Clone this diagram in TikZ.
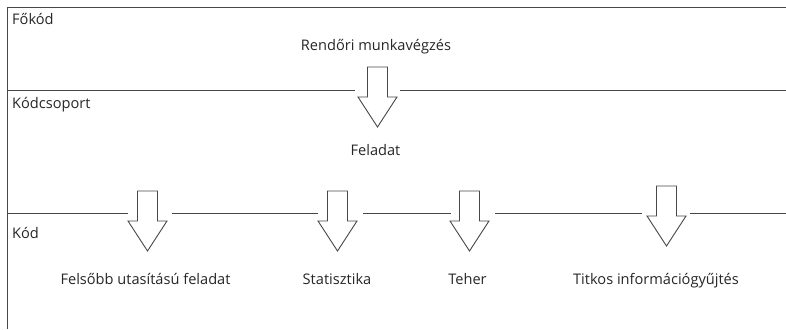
\documentclass[tikz,border=0pt]{standalone}
\usepackage{fontspec}
\setmainfont{Open Sans}
\begin{document}
\begin{tikzpicture}[x=1pt,y=-1pt,
  rule/.style={draw=black!72,line width=0.9pt},
  blk/.style={draw=black!72,line width=0.9pt,fill=white,line join=miter},
  lbl/.style={anchor=base west,inner sep=0pt,font=\fontsize{14.6}{16}\selectfont,text=black!85},
  txt/.style={anchor=base,inner sep=0pt,font=\fontsize{14.6}{16}\selectfont,text=black!85}]
\useasboundingbox (0,0) rectangle (786,329);
% frame lines
\coordinate (tl) at (7,7);
\coordinate (tr) at (786,7);
\coordinate (bl) at (7,329);
\draw[rule] (tr) -- (tl) -- (bl);
\draw[rule] (7,90) -- (355,90);
\draw[rule] (400,90) -- (786,90);
\draw[rule] (7,213) -- (128,213);
\draw[rule] (172,213) -- (318,213);
\draw[rule] (363,213) -- (451,213);
\draw[rule] (495,213) -- (642,213);
\draw[rule] (690,213) -- (786,213);
% block arrows: #1 centre x, #2 top y
\newcommand{\blkarrow}[2]{%
  \draw[blk] (#1-10,#2) -- (#1+10,#2) -- (#1+10,#2+30) -- (#1+19.5,#2+30)
     -- (#1,#2+60) -- (#1-19.5,#2+30) -- (#1-10,#2+30) -- cycle;}
\blkarrow{377.5}{67}
\blkarrow{147.5}{191}
\blkarrow{337.5}{191}
\blkarrow{469.5}{191}
\blkarrow{666.5}{186}
% labels
\node[lbl] (l1) at (12,25) {Főkód};
\node[lbl] (l2) at (12,108) {Kódcsoport};
\node[lbl] (l3) at (12,238) {Kód};
\node[txt] (t1) at (376,51) {Rendőri munkavégzés};
\node[txt] (t2) at (375.5,155) {Feladat};
\node[txt] (t3) at (145.5,284) {Felsőbb utasítású feladat};
\node[txt] (t4) at (337,284) {Statisztika};
\node[txt] (t5) at (467.5,284) {Teher};
\node[txt] (t6) at (656,284) {Titkos információgyűjtés};
\end{tikzpicture}
\end{document}
